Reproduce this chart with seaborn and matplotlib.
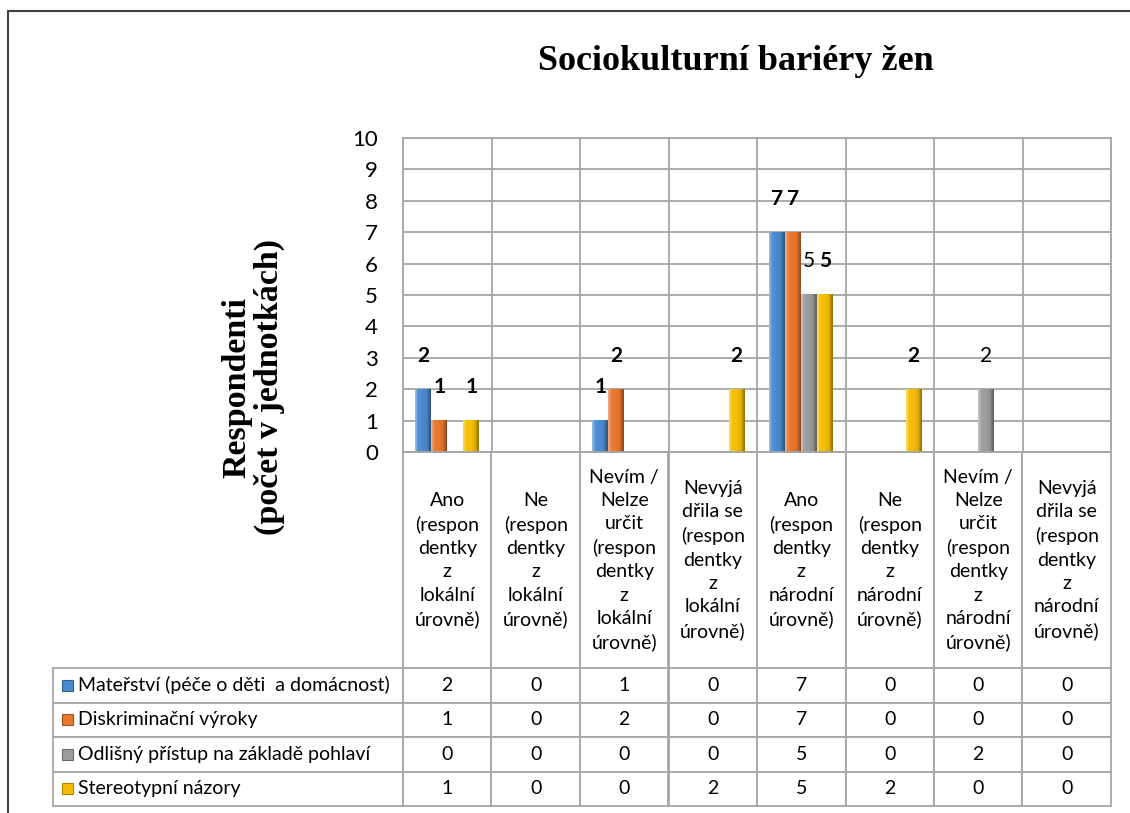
import numpy as np
import pandas as pd
import matplotlib
matplotlib.use("Agg")
import matplotlib.pyplot as plt
import seaborn as sns
from matplotlib.patches import Rectangle
from matplotlib.colors import to_rgb

# ---------------- data ----------------
categories = [
    "Ano\n(respon\ndentky\nz\nlokální\núrovně)",
    "Ne\n(respon\ndentky\nz\nlokální\núrovně)",
    "Nevím /\nNelze\nurčit\n(respon\ndentky\nz\nlokální\núrovně)",
    "Nevyjá\ndřila se\n(respon\ndentky\nz\nlokální\núrovně)",
    "Ano\n(respon\ndentky\nz\nnárodní\núrovně)",
    "Ne\n(respon\ndentky\nz\nnárodní\núrovně)",
    "Nevím /\nNelze\nurčit\n(respon\ndentky\nz\nnárodní\núrovně)",
    "Nevyjá\ndřila se\n(respon\ndentky\nz\nnárodní\núrovně)",
]
series = [
    "Mateřství (péče o děti  a domácnost)",
    "Diskriminační výroky",
    "Odlišný přístup na základě pohlaví",
    "Stereotypní názory",
]
materstvi = [2, 0, 1, 0, 7, 0, 0, 0]
diskriminacni = [1, 0, 2, 0, 7, 0, 0, 0]
odlisny = [0, 0, 0, 0, 5, 0, 2, 0]
stereotypni = [1, 0, 0, 2, 5, 2, 0, 0]
yticks = list(range(0, 11))

title = "Sociokulturní bariéry žen"
ylabel = "Respondenti\n(počet v jednotkách)"

# ---------------- style ----------------
colors = ["#4a8bcf", "#e8772e", "#9c9c9c", "#f4bd00"]
label_bold = [True, True, False, True]
grid_c = "#a6a6a6"

sns.set_theme(style="white")
plt.rcParams["font.family"] = ["Lato", "DejaVu Sans"]
plt.rcParams["text.color"] = "black"

values = [materstvi, diskriminacni, odlisny, stereotypni]
df = pd.DataFrame(
    [(c, s, v) for s, vals in zip(series, values) for c, v in zip(categories, vals)],
    columns=["kategorie", "serie", "hodnota"],
)

W, H = 1130, 813
fig = plt.figure(figsize=(W / 100, H / 100), dpi=100)
fig.patch.set_facecolor("white")

# plot area in pixel layout
px_l, px_r, px_t, px_b = 403, 1111, 138, 452
ax = fig.add_axes([px_l / W, 1 - px_b / H, (px_r - px_l) / W, (px_b - px_t) / H])
ax_w, ax_h = px_r - px_l, px_b - px_t

sns.barplot(
    data=df, x="kategorie", y="hodnota", hue="serie",
    order=categories, hue_order=series, palette=colors,
    width=0.72, saturation=1, linewidth=0, legend=False, ax=ax,
)

# bevel-like gradient on bars
def shade(base, f):
    base = np.array(base)
    if f >= 1:
        return base + (1 - base) * (f - 1)
    return base * f

t = np.linspace(0, 1, 40)
fac = np.interp(t, [0, 0.1, 0.2, 0.5, 0.78, 0.88, 1.0],
                [1.45, 1.25, 1.05, 1.0, 0.92, 0.72, 0.62])
for cont, col in zip(ax.containers, colors):
    base = to_rgb(col)
    img = np.array([[shade(base, f) for f in fac]])
    for p in cont.patches:
        h = p.get_height()
        if h <= 0:
            continue
        x0, w = p.get_x(), p.get_width()
        ax.imshow(img, extent=[x0, x0 + w, 0, h], aspect="auto",
                  interpolation="bilinear", zorder=p.get_zorder() + 0.01)

# data labels
for cont, bold in zip(ax.containers, label_bold):
    labels = [f"{int(v)}" if v > 0 else "" for v in cont.datavalues]
    ax.bar_label(cont, labels=labels, padding=17, fontsize=15,
                 fontweight="bold" if bold else "normal", color="black")

ax.set_xlim(-0.5, len(categories) - 0.5)
ax.set_ylim(0, 10)
ax.set_yticks(yticks)
ax.set_xticks([])
ax.set_xticks(np.arange(-0.5, len(categories), 1), minor=True)
ax.tick_params(axis="y", length=0, pad=18, labelsize=16, labelcolor="black")
ax.tick_params(which="minor", length=0, labelbottom=False)
ax.grid(True, which="major", axis="y", color=grid_c, lw=1.3)
ax.grid(True, which="minor", axis="x", color=grid_c, lw=1.3)
ax.set_axisbelow(True)
ax.set_xlabel("")
ax.set_ylabel("")
for sp in ax.spines.values():
    sp.set_color(grid_c)
    sp.set_linewidth(1.3)

# ---------------- data table ----------------
leg_l = 53
head_h, row_h = 216, 34.5
tab_fs = 14
tab_bottom = px_b + head_h + row_h * len(series)
cell_text = [[str(v) for v in vals] for vals in values]
tab = ax.table(
    cellText=cell_text, colLabels=categories,
    colWidths=[1 / len(categories)] * len(categories),
    cellLoc="center", colLoc="center",
    bbox=[0, -(tab_bottom - px_b) / ax_h, 1, (tab_bottom - px_b) / ax_h],
)
for i, name in enumerate(series):
    tab.add_cell(i + 1, -1, width=(px_l - leg_l) / ax_w, height=row_h / ax_h,
                 text=name, loc="left")
tab.auto_set_font_size(False)
tab.set_fontsize(tab_fs)
for (r, c), cell in tab.get_celld().items():
    cell.set_edgecolor(grid_c)
    cell.set_linewidth(1.3)
    cell.set_facecolor("white")
    cell.get_text().set_color("black")
    cell.get_text().set_fontsize(tab_fs)
    if r == 0:
        cell.set_height(head_h / ax_h)
        cell.get_text().set_linespacing(1.45)
    else:
        cell.set_height(row_h / ax_h)
    if c == -1:
        cell.PAD = 25 / (px_l - leg_l)

# legend keys in the table row labels
for i, col in enumerate(colors):
    cy = px_b + head_h + row_h * (i + 0.5)
    ax.add_patch(Rectangle(((62 - px_l) / ax_w, (px_b - cy - 5.5) / ax_h),
                           11 / ax_w, 11 / ax_h, transform=ax.transAxes,
                           facecolor=col,
                           edgecolor=tuple(np.array(to_rgb(col)) * 0.7),
                           lw=0.8, clip_on=False, zorder=5))

# ---------------- titles ----------------
fig.text(736 / W, 1 - 62 / H, title, ha="center", va="center", color="black",
         fontsize=26, fontweight="bold", family="Liberation Serif")
fig.text(253 / W, 1 - 387 / H, ylabel, ha="center", va="center", color="black",
         rotation=90, multialignment="center", linespacing=1.05,
         fontsize=24.5, fontweight="bold", family="Liberation Serif")

# chart border (left and top edges visible)
fig.patches.append(Rectangle((8 / W, -0.2), 1.5, (H - 11) / H + 0.2,
                             transform=fig.transFigure, fill=False,
                             edgecolor="#404040", lw=1.5))

fig.savefig("out.png", dpi=100)
